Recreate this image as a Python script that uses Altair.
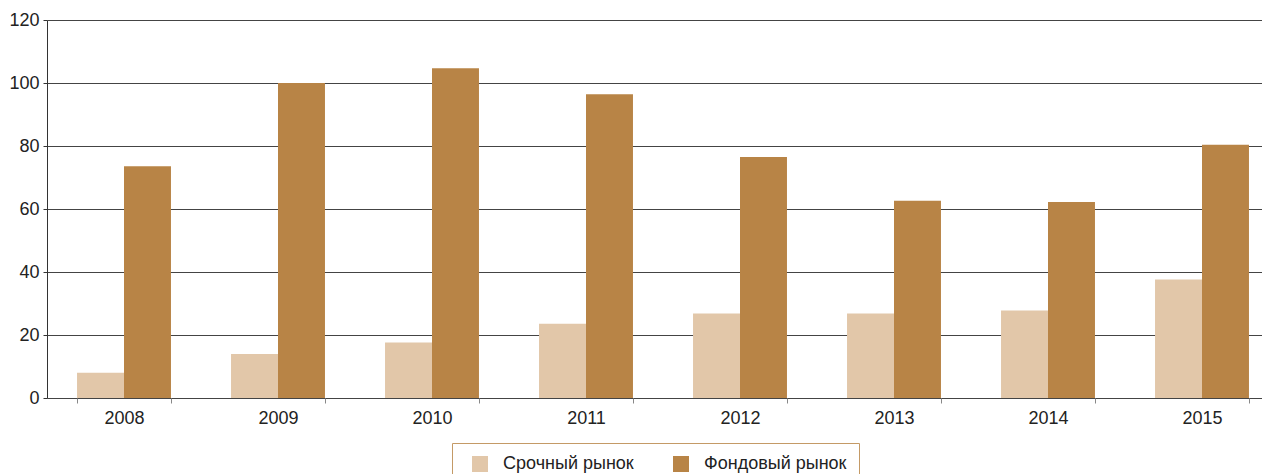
import altair as alt
import pandas as pd

years = ["2008", "2009", "2010", "2011", "2012", "2013", "2014", "2015"]
derivatives = [8, 14, 17.6, 23.6, 26.8, 26.8, 27.8, 37.6]
stocks = [73.6, 100, 104.7, 96.4, 76.5, 62.6, 62.2, 80.4]
series_names = ["Срочный рынок", "Фондовый рынок"]
colors = ["#e2c7a9", "#b88446"]

rows = []
for y, d, s in zip(years, derivatives, stocks):
    rows.append({"year": y, "series": series_names[0], "value": d})
    rows.append({"year": y, "series": series_names[1], "value": s})
df = pd.DataFrame(rows)

FONT = "Liberation Sans, Arial, sans-serif"
FS = 18

chart = alt.Chart(df).mark_bar().encode(
    x=alt.X("year:N", sort=years, title=None,
            scale=alt.Scale(paddingInner=0.39, paddingOuter=0.195, range=[0, 1232]),
            axis=alt.Axis(labelAngle=0, tickBand="extent", tickSize=5,
                          tickColor="#888", domain=False,
                          labelPadding=6, labelFontSize=FS, labelColor="#222",
                          labelFont=FONT, grid=False)),
    xOffset=alt.XOffset("series:N", sort=series_names),
    y=alt.Y("value:Q", title=None,
            scale=alt.Scale(domain=[0, 120], nice=False),
            axis=alt.Axis(values=[0, 20, 40, 60, 80, 100, 120], tickSize=4,
                          tickColor="#333", domainColor="#333",
                          gridColor="#444", gridWidth=1,
                          labelPadding=4, labelFontSize=FS, labelColor="#222",
                          labelFont=FONT)),
    color=alt.Color("series:N", sort=series_names,
                    scale=alt.Scale(domain=series_names, range=colors),
                    legend=alt.Legend(title=None, orient="none",
                                      legendX=405, legendY=423,
                                      direction="horizontal",
                                      symbolType="square", symbolSize=256,
                                      symbolStrokeWidth=0, symbolOffset=7,
                                      labelFontSize=FS, labelFont=FONT,
                                      labelColor="#222", labelOffset=14,
                                      columnPadding=31,
                                      padding=12, strokeColor="#c49a66",
                                      labelLimit=300)),
).properties(
    width=1210,
    height=378,
    padding={"left": 39, "top": 12, "right": 5, "bottom": 76},
    autosize=alt.AutoSizeParams(type="none"),
).configure_view(stroke=None).configure_axis(zindex=0)

chart.save("out.html", embed_options={"renderer": "svg", "actions": False})
